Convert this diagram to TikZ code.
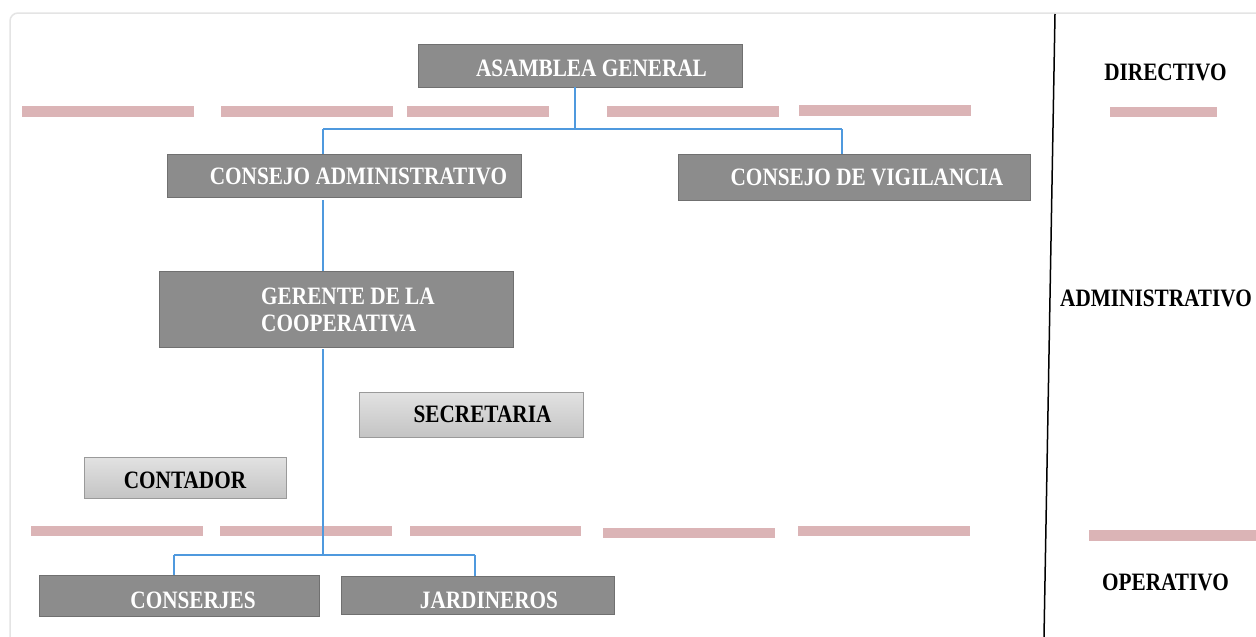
\documentclass[tikz,border=0pt]{standalone}
\usepackage{fontspec}
\setmainfont{Liberation Serif}[FakeStretch=0.85]
\definecolor{boxgray}{HTML}{8C8C8C}
\definecolor{boxedge}{HTML}{707070}
\definecolor{lboxtop}{HTML}{E2E2E2}
\definecolor{lboxbot}{HTML}{C4C4C4}
\definecolor{lboxedge}{HTML}{9A9A9A}
\definecolor{linkblue}{HTML}{4F99DE}
\definecolor{bandpink}{HTML}{DBB4B6}
\definecolor{framegray}{HTML}{E4E4E4}
\begin{document}
\begin{tikzpicture}[x=1pt,y=-1pt,
  dbox/.style={rectangle, draw=boxedge, fill=boxgray, line width=0.8pt, inner sep=0pt},
  lbox/.style={rectangle, draw=lboxedge, top color=lboxtop, bottom color=lboxbot, line width=0.8pt, inner sep=0pt},
  wtxt/.style={text=white, font=\bfseries\fontsize{25}{27}\selectfont, inner sep=0pt},
  btxt/.style={text=black, font=\bfseries\fontsize{25}{27}\selectfont, inner sep=0pt},
  link/.style={draw=linkblue, line width=1.5pt},
  band/.style={fill=bandpink}]
\useasboundingbox (0,0) rectangle (1256,637);
\fill[white] (0,0) rectangle (1256,637);

% faint frame
\draw[framegray, line width=1.5pt, rounded corners=8pt] (10,637) -- (10,13) -- (1256,13);

% divider
\draw[black, line width=1.5pt] (1055,14) -- (1044,637);

% pink bands (top row)
\fill[band] (22,106) rectangle (194,117);
\fill[band] (221,106) rectangle (393,117);
\fill[band] (407,106) rectangle (549,117);
\fill[band] (607,106) rectangle (779,117);
\fill[band] (799,105) rectangle (971,116);
\fill[band] (1110,107) rectangle (1217,117);
% pink bands (bottom row)
\fill[band] (31,526) rectangle (203,536);
\fill[band] (220,526) rectangle (392,536);
\fill[band] (410,526) rectangle (581,536);
\fill[band] (603,528) rectangle (775,538);
\fill[band] (798,526) rectangle (970,536);
\fill[band] (1089,530) rectangle (1256,541);

% boxes
\node[dbox, minimum width=324pt, minimum height=43pt] (ag) at (580,65.5) {};
\node[dbox, minimum width=354pt, minimum height=43pt] (ca) at (344,175.5) {};
\node[dbox, minimum width=352pt, minimum height=46pt] (cv) at (854,177) {};
\node[dbox, minimum width=354pt, minimum height=76pt] (ge) at (336,309) {};
\node[lbox, minimum width=224pt, minimum height=45pt] (se) at (471,414.5) {};
\node[lbox, minimum width=202pt, minimum height=41pt] (co) at (185,477.5) {};
\node[dbox, minimum width=280pt, minimum height=41pt] (cs) at (179,595.5) {};
\node[dbox, minimum width=273pt, minimum height=38pt] (ja) at (477.5,595) {};

% box texts
\node[wtxt, anchor=base] (agT) at (591.5,76.7) {ASAMBLEA GENERAL};
\node[wtxt, anchor=base] (caT) at (358.5,184.7) {CONSEJO ADMINISTRATIVO};
\node[wtxt, anchor=base] (cvT) at (867,185.7) {CONSEJO DE VIGILANCIA};
\node[wtxt, anchor=north west, align=left] (geT) at (261,287.3) {GERENTE DE LA\\COOPERATIVA};
\node[btxt, anchor=base] (seT) at (482.5,422.2) {SECRETARIA};
\node[btxt, anchor=base] (coT) at (185,488.7) {CONTADOR};
\node[wtxt, anchor=base] (csT) at (193,608.2) {CONSERJES};
\node[wtxt, anchor=base] (jaT) at (489,608.2) {JARDINEROS};

% level labels
\node[btxt, anchor=base] (lvd) at (1165.5,80.7) {DIRECTIVO};
\node[btxt, anchor=base west] (lva) at (1060,306.2) {ADMINISTRATIVO};
\node[btxt, anchor=base] (lvo) at (1165.5,590.2) {OPERATIVO};

% connectors
\coordinate (j1) at (575,129);
\coordinate (b1) at (323,129);
\coordinate (b2) at (842,129);
\draw[link] (ag.south -| j1) -- (j1);
\draw[link] (b1) -- (b2);
\draw[link] (b1) -- (b1 |- ca.north);
\draw[link] (b2) -- (b2 |- cv.north);
\draw[link, shorten <=3pt] (ca.south -| b1) -- (ge.north -| b1);
\coordinate (j2) at (323,555);
\coordinate (c1) at (174,555);
\coordinate (c2) at (475,555);
\draw[link, shorten <=2pt] (ge.south -| j2) -- (j2);
\draw[link] (c1) -- (c2);
\draw[link] (c1) -- (c1 |- cs.north);
\draw[link] (c2) -- (c2 |- ja.north);
\end{tikzpicture}
\end{document}
